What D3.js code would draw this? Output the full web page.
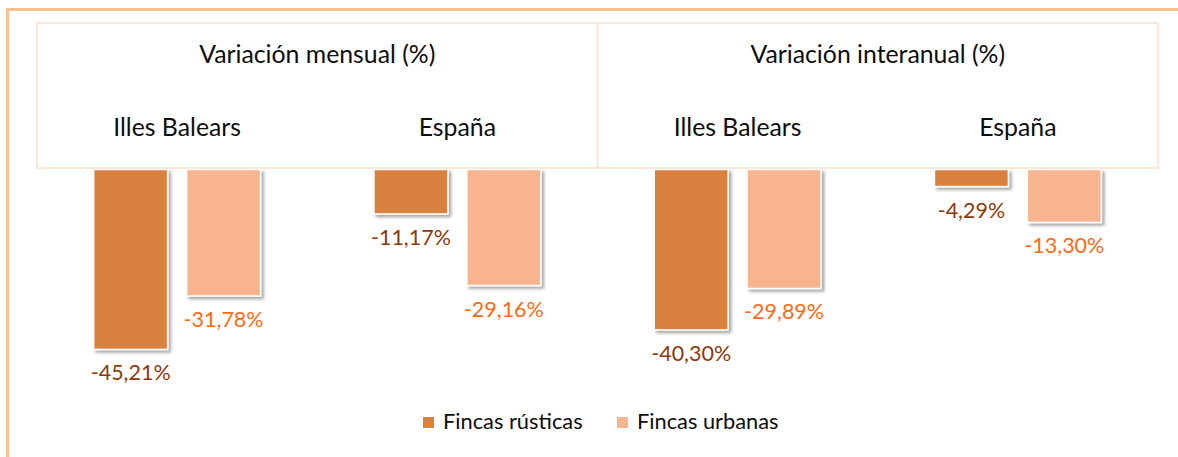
<!DOCTYPE html>
<html><head><meta charset="utf-8">
<script src="https://cdn.jsdelivr.net/npm/d3@7"></script>
<style>
html,body{margin:0;padding:0;background:#fff;}
svg{display:block;font-family:Lato,"Open Sans",sans-serif;}
</style></head>
<body>
<svg id="chart" width="1178" height="457"></svg>
<script>
// ---- data ----
const groups = ["Variación mensual (%)", "Variación interanual (%)"];
const regions = ["Illes Balears", "España"];
const series = ["Fincas rústicas", "Fincas urbanas"];
const rusticas = [-45.21, -11.17, -40.30, -4.29];
const urbanas  = [-31.78, -29.16, -29.89, -13.30];

// ---- layout ----
const tbl = {x0: 37, x1: 1158, y0: 23, y1: 168};
const colors = ["#D9823F", "#F7B48F"];
const labelColors = ["#8C3A0C", "#FF6A14"];

const svg = d3.select("#chart");
const defs = svg.append("defs");
const f = defs.append("filter").attr("id","sh").attr("x","-20%").attr("y","-20%").attr("width","150%").attr("height","150%");
f.append("feDropShadow").attr("dx",2.5).attr("dy",2.5).attr("stdDeviation",1.6)
  .attr("flood-color","#000").attr("flood-opacity",0.35);

// outer frame (cropped on right and bottom)
svg.append("rect").attr("x",7.5).attr("y",9.5).attr("width",1300).attr("height",600)
  .attr("fill","none").attr("stroke","#F9C08C").attr("stroke-width",3);

const cats = d3.range(groups.length * regions.length);
const x0 = d3.scaleBand().domain(cats).range([tbl.x0, tbl.x1]).padding(0);
const x1 = d3.scaleBand().domain(series).range([0, x0.bandwidth()])
  .paddingInner(0.204).paddingOuter(0.61);
const y = d3.scaleLinear().domain([-50, 0]).range([169.5 + 199, 169.5]);

const loc = d3.formatLocale({decimal: ",", thousands: ".", grouping: [3], currency: ["", "€"], minus: "-"});
const fmt = v => loc.format(".2f")(v) + "%";
const seriesVals = [rusticas, urbanas];

const data = [];
cats.forEach(c => series.forEach((s, si) => data.push({c, s, si, v: seriesVals[si][c]})));

// bars
svg.append("g").selectAll("rect").data(data).join("rect")
  .attr("x", d => x0(d.c) + x1(d.s))
  .attr("y", y(0))
  .attr("width", x1.bandwidth())
  .attr("height", d => y(d.v) - y(0))
  .attr("fill", d => colors[d.si])
  .attr("stroke", "#fff").attr("stroke-width", 1.5)
  .attr("filter", "url(#sh)");

// data labels
svg.append("g").selectAll("text").data(data).join("text")
  .attr("x", d => x0(d.c) + x1(d.s) + x1.bandwidth()/2)
  .attr("y", d => y(d.v) + 31)
  .attr("text-anchor", "middle")
  .attr("font-size", 21.5)
  .attr("fill", d => labelColors[d.si])
  .text(d => fmt(d.v));

// header table
const hg = svg.append("g");
hg.append("rect").attr("x", tbl.x0).attr("y", tbl.y0)
  .attr("width", tbl.x1 - tbl.x0).attr("height", tbl.y1 - tbl.y0)
  .attr("fill", "none").attr("stroke", "#FBDFCB").attr("stroke-width", 1.5);
const gx = d3.scaleBand().domain(groups).range([tbl.x0, tbl.x1]);
hg.selectAll("line.div").data(groups.slice(1)).join("line")
  .attr("x1", d => gx(d)).attr("x2", d => gx(d))
  .attr("y1", tbl.y0).attr("y2", tbl.y1)
  .attr("stroke", "#FBDFCB").attr("stroke-width", 1.5);
hg.selectAll("text.g").data(groups).join("text")
  .attr("x", d => gx(d) + gx.bandwidth()/2).attr("y", 62.5)
  .attr("text-anchor", "middle").attr("font-size", 24.8).attr("fill", "#0d0d0d")
  .text(d => d);
hg.selectAll("text.r").data(cats).join("text")
  .attr("x", c => x0(c) + x0.bandwidth()/2).attr("y", 135.5)
  .attr("text-anchor", "middle").attr("font-size", 24.8).attr("fill", "#0d0d0d")
  .text(c => regions[c % regions.length]);

// legend
const lg = svg.append("g");
const legX = [423, 617];
series.forEach((s, i) => {
  lg.append("rect").attr("x", legX[i]).attr("y", 417).attr("width", 11).attr("height", 11)
    .attr("fill", colors[i]);
  lg.append("text").attr("x", legX[i] + 20).attr("y", 428.5)
    .attr("font-size", 21.8).attr("fill", "#0d0d0d").text(s);
});
</script>
</body></html>
